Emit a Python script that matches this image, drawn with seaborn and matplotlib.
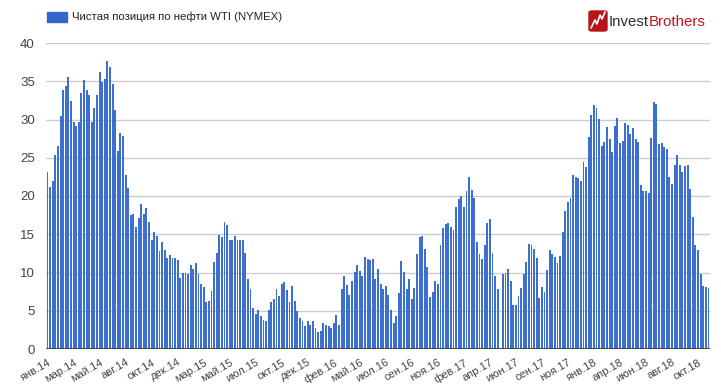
import numpy as np
import pandas as pd
import matplotlib
matplotlib.use("Agg")
import matplotlib.pyplot as plt
import seaborn as sns
from matplotlib.patches import FancyBboxPatch, Rectangle
from matplotlib.lines import Line2D

# ---- data (weekly net position, NYMEX WTI) ----
net_position = [
    23.2, 21.2, 21.9, 25.3, 26.6, 30.5, 33.9, 34.4, 35.5, 32.4, 29.7, 29.1,
    29.7, 33.5, 35.1, 33.9, 33.2, 29.7, 31.5, 33.2, 36.2, 34.9, 35.3, 37.7,
    36.8, 34.6, 31.2, 25.9, 28.3, 27.9, 22.7, 21.0, 17.5, 17.7, 15.9, 17.1,
    19.0, 17.7, 18.4, 16.6, 14.3, 15.3, 14.8, 12.8, 14.0, 12.9, 11.9, 12.3,
    11.9, 11.9, 11.6, 9.3, 10.0, 10.0, 9.8, 11.0, 10.4, 11.2, 9.8, 8.5,
    8.1, 6.1, 6.3, 7.6, 11.4, 12.6, 14.9, 14.6, 16.6, 16.2, 14.2, 14.2,
    14.8, 14.3, 14.2, 14.2, 12.5, 9.1, 7.8, 5.3, 4.6, 5.1, 4.3, 3.8,
    3.7, 5.1, 6.1, 6.6, 7.8, 6.9, 8.5, 8.7, 7.7, 6.1, 8.2, 6.3,
    5.0, 4.1, 3.7, 3.0, 3.6, 3.1, 3.7, 2.7, 2.2, 2.3, 3.4, 3.1,
    3.0, 2.8, 3.4, 4.4, 3.1, 7.8, 9.5, 8.4, 7.1, 8.9, 10.1, 11.0,
    10.2, 9.5, 12.0, 11.8, 11.6, 11.7, 9.1, 10.5, 8.5, 7.8, 8.2, 7.0,
    5.1, 3.4, 4.3, 7.3, 11.5, 10.1, 7.9, 9.2, 6.5, 8.0, 12.4, 14.6,
    14.8, 13.1, 10.7, 6.8, 7.5, 8.9, 8.5, 13.6, 15.8, 16.3, 16.5, 15.9,
    15.5, 18.6, 19.6, 20.0, 18.5, 20.7, 22.5, 20.8, 19.8, 14.0, 12.4, 11.8,
    13.6, 16.5, 17.0, 12.5, 9.6, 7.8, np.nan, 9.8, 10.0, 10.5, 8.9, 5.8,
    5.8, 6.9, 8.0, 9.8, 11.4, 13.7, 13.6, 13.1, 11.9, 6.7, 8.1, 7.5,
    10.3, 13.0, 12.4, 12.0, 11.3, 12.2, 15.3, 18.0, 19.2, 19.7, 22.8, 22.5,
    22.4, 22.0, 24.5, 23.8, 27.7, 30.6, 31.9, 31.5, 30.1, 26.5, 27.0, 29.0,
    27.5, 25.8, 29.2, 30.2, 26.9, 27.2, 29.5, 29.3, 28.1, 28.9, 27.4, 27.1,
    21.5, 20.6, 20.7, 20.4, 27.6, 32.3, 32.0, 26.8, 26.9, 26.4, 26.1, 22.5,
    21.6, 24.1, 25.3, 24.1, 23.1, 23.9, 24.0, 20.9, 17.3, 13.6, 12.9, 9.8,
    8.3, 8.1, 8.0,
]
tick_labels = [
    "янв.14", "мар.14", "май.14", "авг.14", "окт.14", "дек.14", "мар.15",
    "май.15", "июл.15", "окт.15", "дек.15", "фев.16", "май.16", "июл.16",
    "сен.16", "ноя.16", "фев.17", "апр.17", "июн.17", "сен.17", "ноя.17",
    "янв.18", "апр.18", "июн.18", "авг.18", "окт.18",
]
series_name = "Чистая позиция по нефти WTI (NYMEX)"
label_step = 10

# ---- figure ----
sns.set_theme(style="white")
plt.rcParams['font.family'] = ['Liberation Sans', 'DejaVu Sans']

W, H = 721, 388
fig = plt.figure(figsize=(W / 100, H / 100), dpi=100)
ax = fig.add_axes([46 / W, 1 - 349 / H, 664 / W, 306 / H])

n = len(net_position)
df = pd.DataFrame({"week": np.arange(n), "value": net_position})
sns.barplot(data=df, x="week", y="value", order=list(range(n)),
            color="#3d6fd1", saturation=1, width=0.72, linewidth=0,
            errorbar=None, ax=ax)

ax.set_ylim(0, 40)
ax.set_yticks(range(0, 41, 5))
ax.yaxis.grid(True, color="#cccccc", lw=1)
ax.xaxis.grid(False)
ax.set_axisbelow(True)
ax.axhline(0, color="#333333", lw=1.2, zorder=5)
for s in ax.spines.values():
    s.set_visible(False)
ax.set_xlim(-0.6, n - 0.4)
ax.set_xticks(list(range(0, n, label_step))[:len(tick_labels)])
ax.set_xticklabels(tick_labels, rotation=30, ha='right',
                   rotation_mode='anchor', fontsize=8, color='#444444')
ax.tick_params(axis='x', length=0, pad=6)
ax.tick_params(axis='y', length=0, pad=8, labelsize=9.5, labelcolor='#444444')
ax.set_xlabel('')
ax.set_ylabel('')

# ---- legend ----
fig.patches.append(Rectangle((47 / W, 1 - 22 / H), 20 / W, 10 / H,
                             transform=fig.transFigure, color="#3366cc"))
fig.text(72 / W, 1 - 17 / H, series_name, fontsize=8.2, color='#222222',
         va='center', ha='left')

# ---- logo ----
fig.patches.append(FancyBboxPatch((589 / W, 1 - 31 / H), 18 / W, 20 / H,
                                  boxstyle="round,pad=0,rounding_size=0.004",
                                  transform=fig.transFigure, color="#b3151b"))
zx = np.array([591, 595, 597, 600, 602, 605]) / W
zy = 1 - np.array([28, 20, 24, 15, 19, 12]) / H
fig.lines.append(Line2D(zx, zy, transform=fig.transFigure, color='white', lw=1.2))
t1 = fig.text(609 / W, 1 - 22 / H, "Invest", fontsize=10.8, color='#2e2e2e',
              va='center', ha='left')
fig.canvas.draw()
bb = t1.get_window_extent(fig.canvas.get_renderer())
fig.text(bb.x1 / W, 1 - 22 / H, "Brothers", fontsize=10.8, color='#c0171d',
         va='center', ha='left')

fig.savefig("out.png", dpi=100)
